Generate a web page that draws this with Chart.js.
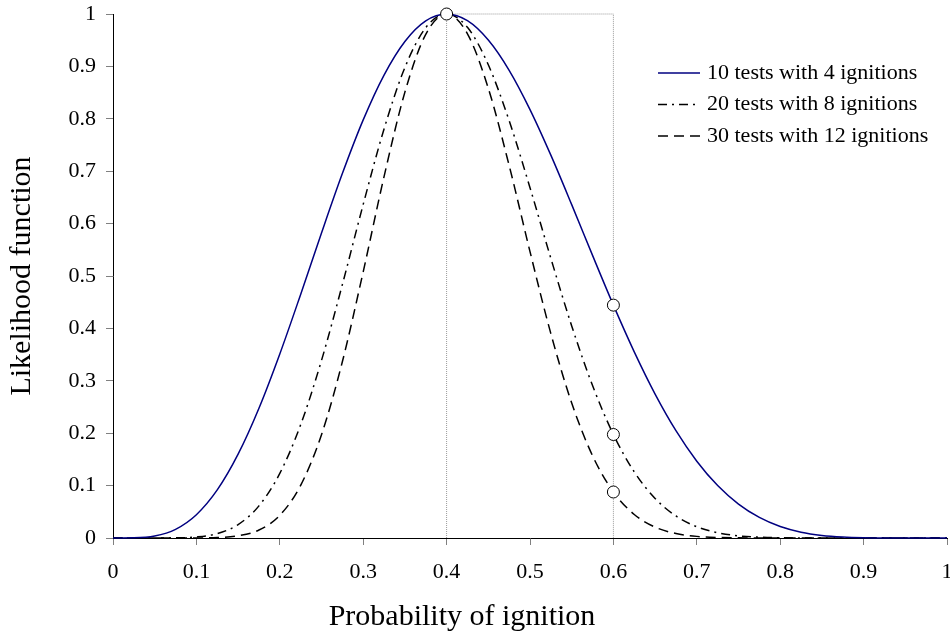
<!DOCTYPE html>
<html>
<head>
<meta charset="utf-8">
<script src="https://cdn.jsdelivr.net/npm/chart.js@4/dist/chart.umd.min.js"></script>
<style>
  html, body { margin: 0; padding: 0; background: #fff; }
  #wrap { width: 950px; height: 636px; }
</style>
</head>
<body>
<div id="wrap"><canvas id="likelihoodChart" width="950" height="636"></canvas></div>
<script>
// probability of ignition (x axis), every 0.025
const probIgnition = [
  0, 0.025, 0.05, 0.075, 0.1, 0.125, 0.15, 0.175, 0.2, 0.225,
  0.25, 0.275, 0.3, 0.325, 0.35, 0.375, 0.4, 0.425, 0.45, 0.475,
  0.5, 0.525, 0.55, 0.575, 0.6, 0.625, 0.65, 0.675, 0.7, 0.725,
  0.75, 0.775, 0.8, 0.825, 0.85, 0.875, 0.9, 0.925, 0.95, 0.975, 1
];

// likelihood
const tests10 = [
  0, 0.0003, 0.0038, 0.0166, 0.0445, 0.0917, 0.1599, 0.2476, 0.3512, 0.4649,
  0.5821, 0.6954, 0.7979, 0.8835, 0.9476, 0.9869, 1, 0.9872, 0.9503, 0.8925,
  0.8176, 0.7306, 0.6362, 0.5393, 0.4444, 0.3553, 0.2747, 0.2048, 0.1465, 0.1000,
  0.0647, 0.0392, 0.0219, 0.0111, 0.0050, 0.0019, 0.0005, 0.0001, 0, 0, 0
];
const tests20 = [
  0, 0, 0, 0.0003, 0.0020, 0.0084, 0.0256, 0.0613, 0.1233, 0.2161,
  0.3388, 0.4836, 0.6366, 0.7806, 0.8979, 0.9739, 1, 0.9746, 0.9031, 0.7965,
  0.6685, 0.5337, 0.4047, 0.2909, 0.1975, 0.1262, 0.0755, 0.0420, 0.0215, 0.0100,
  0.0042, 0.0015, 0.0005, 0.0001, 0, 0, 0, 0, 0, 0, 0
];
const tests30 = [
  0, 0, 0, 0, 0.0001, 0.0008, 0.0041, 0.0152, 0.0433, 0.1005,
  0.1972, 0.3363, 0.5080, 0.6896, 0.8509, 0.9612, 1, 0.9621, 0.8582, 0.7109,
  0.5465, 0.3900, 0.2575, 0.1569, 0.0878, 0.0449, 0.0207, 0.0086, 0.0031, 0.0010,
  0.0003, 0.0001, 0, 0, 0, 0, 0, 0, 0, 0, 0
];

const seriesLabels = ['10 tests with 4 ignitions', '20 tests with 8 ignitions', '30 tests with 12 ignitions'];

// dotted guide: up at 0.4, across at 1, down at 0.6
const guideX = [0.4, 0.4, 0.6, 0.6];
const guideY = [0, 1, 1, 0];

// open circles
const markerX = [0.4, 0.6, 0.6, 0.6];
const markerY = [1, 0.4444, 0.1975, 0.0878];

const toPoints = (xs, ys) => xs.map((x, i) => ({ x: x, y: ys[i] }));

const serif = '"Liberation Serif", "Times New Roman", serif';

// legend + x title drawn by hand (Excel-like placement)
const legendAndTitle = {
  id: 'legendAndTitle',
  afterDraw(chart) {
    const ctx = chart.ctx;
    ctx.save();
    ctx.font = '22px ' + serif;
    ctx.fillStyle = '#000';
    ctx.textBaseline = 'middle';
    seriesLabels.forEach((label, i) => {
      const ds = chart.data.datasets[i];
      const y = 73 + i * 31.5;
      ctx.strokeStyle = ds.borderColor;
      ctx.lineWidth = ds.borderWidth;
      ctx.setLineDash(ds.borderDash || []);
      ctx.beginPath();
      ctx.moveTo(658, y);
      ctx.lineTo(700, y);
      ctx.stroke();
      ctx.fillText(label, 707, y);
    });
    ctx.setLineDash([]);
    ctx.font = '30px ' + serif;
    ctx.textAlign = 'center';
    ctx.fillText('Probability of ignition', 462, 617);
    ctx.restore();
  }
};

const curve = (label, ys, color, dash) => ({
  label: label,
  data: toPoints(probIgnition, ys),
  borderColor: color,
  borderWidth: 1.5,
  borderDash: dash,
  pointRadius: 0,
  fill: false,
  cubicInterpolationMode: 'monotone',
  clip: false
});

const tickText = v => String(Math.round(v * 10) / 10);

new Chart(document.getElementById('likelihoodChart').getContext('2d'), {
  type: 'line',
  data: {
    datasets: [
      curve(seriesLabels[0], tests10, '#000080', []),
      curve(seriesLabels[1], tests20, '#000000', [9, 5, 2, 5]),
      curve(seriesLabels[2], tests30, '#000000', [10, 6]),
      {
        label: 'guide',
        data: toPoints(guideX, guideY),
        borderColor: '#9a9a9a',
        borderWidth: 1,
        borderDash: [1, 1],
        pointRadius: 0,
        tension: 0,
        order: 5,
        clip: false
      },
      {
        label: 'markers',
        data: toPoints(markerX, markerY),
        showLine: false,
        pointRadius: 6,
        pointBackgroundColor: '#ffffff',
        pointBorderColor: '#000000',
        pointBorderWidth: 1,
        order: -1,
        clip: false
      }
    ]
  },
  options: {
    responsive: false,
    animation: false,
    devicePixelRatio: 1,
    layout: { autoPadding: false, padding: { top: 14, right: 3, bottom: 0, left: 0 } },
    plugins: {
      legend: { display: false },
      tooltip: { enabled: false }
    },
    scales: {
      x: {
        type: 'linear',
        min: 0,
        max: 1,
        ticks: {
          stepSize: 0.1,
          padding: 14,
          color: '#000',
          font: { family: serif, size: 22 },
          maxRotation: 0,
          callback: tickText
        },
        grid: { drawOnChartArea: false, drawTicks: true, tickLength: 7, tickColor: '#808080' },
        border: { color: '#000', width: 1 },
        afterFit: s => { s.height = 98; s.paddingRight = 0; s.paddingLeft = 0; }
      },
      y: {
        min: 0,
        max: 1,
        ticks: {
          stepSize: 0.1,
          padding: 10,
          color: '#000',
          font: { family: serif, size: 22 },
          callback: tickText
        },
        grid: { drawOnChartArea: false, drawTicks: true, tickLength: 7, tickColor: '#808080' },
        border: { color: '#000', width: 1 },
        title: {
          display: true,
          text: 'Likelihood function',
          color: '#000',
          font: { family: serif, size: 30 },
          padding: { top: 4, bottom: 0 }
        },
        afterFit: s => { s.width = 113; s.paddingTop = 0; s.paddingBottom = 0; }
      }
    }
  },
  plugins: [legendAndTitle]
});
</script>
</body>
</html>
